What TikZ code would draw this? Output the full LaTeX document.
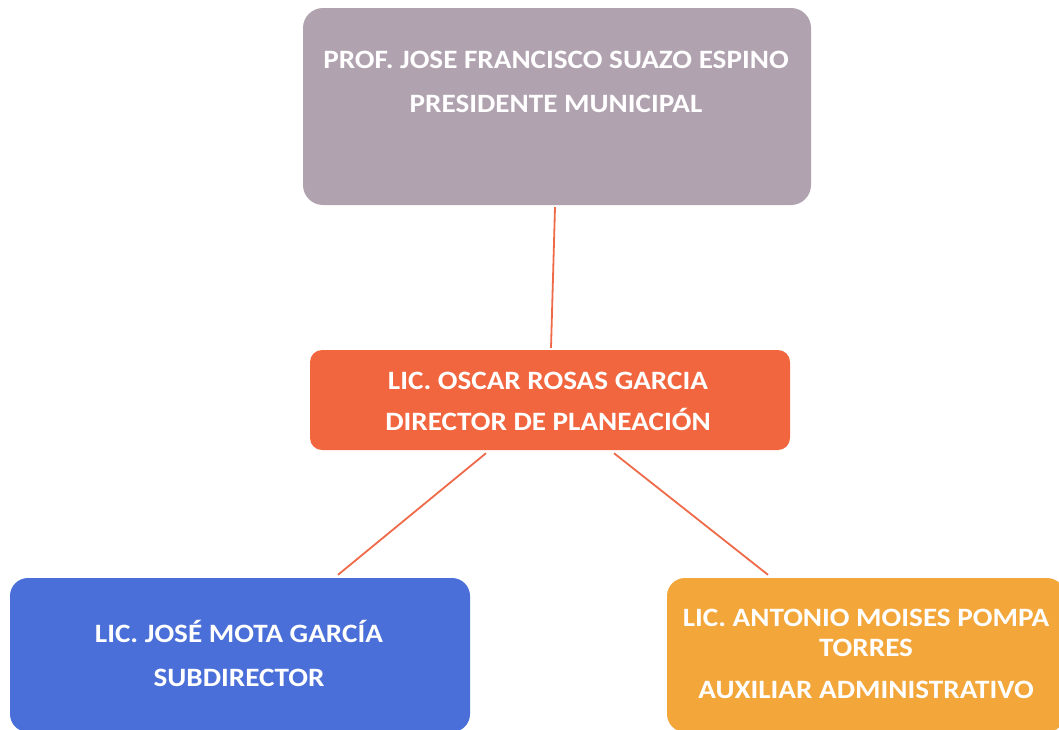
\documentclass[tikz,border=0pt]{standalone}
\usepackage{fontspec}
\setmainfont{Carlito}[FakeStretch=1.1]
\usetikzlibrary{calc}
\definecolor{topgray}{HTML}{B0A3AF}
\definecolor{midred}{HTML}{F2663F}
\definecolor{subblue}{HTML}{4A6FD8}
\definecolor{auxorange}{HTML}{F3A63A}
\definecolor{linkred}{HTML}{EF6A48}
\begin{document}
\begin{tikzpicture}[x=1pt,y=-1pt,
  box/.style={rounded corners=#1, inner sep=0pt, draw=none},
  box/.default=14pt,
  label text/.style={text=white, font=\fontsize{26.5}{30}\selectfont\bfseries, align=center, inner sep=0pt},
  link/.style={draw=linkred, line width=1.8pt}]
\useasboundingbox (0,0) rectangle (1059,729);
\fill[white] (0,0) rectangle (1059,729);
\clip (0,0) rectangle (1059,729);
% boxes
\node[box=20pt, fill=topgray, minimum width=508pt, minimum height=197pt] (top) at (557,106.5) {};
\node[box=12pt, fill=midred, minimum width=480pt, minimum height=100pt] (mid) at (550,400) {};
\node[box=18pt, fill=subblue, minimum width=460pt, minimum height=154pt] (sub) at (240,655) {};
\node[box=18pt, fill=auxorange, minimum width=398pt, minimum height=154pt] (aux) at (866,655) {};
% texts
\node[label text] (toptext) at (556,82) {PROF. JOSE FRANCISCO SUAZO ESPINO\\[14pt]PRESIDENTE MUNICIPAL};
\node[label text] (midtext) at (548,401) {LIC. OSCAR ROSAS GARCIA\\[11pt]DIRECTOR DE PLANEACIÓN};
\node[label text] (subtext) at (239,653) {LIC. JOSÉ MOTA GARCÍA\\[14pt]SUBDIRECTOR};
\node[label text] (auxtext) at (866,654) {LIC. ANTONIO MOISES POMPA\\TORRES\\[12pt]AUXILIAR ADMINISTRATIVO};
% connectors
\draw[link] ($(top.south)+(-2,2)$) -- ($(mid.north)+(1,-2)$);
\draw[link] ($(mid.south)+(-64,3)$) -- ($(sub.north)+(98,-3)$);
\draw[link] ($(mid.south)+(64,3)$) -- ($(aux.north)+(-98,-3)$);
\end{tikzpicture}
\end{document}
